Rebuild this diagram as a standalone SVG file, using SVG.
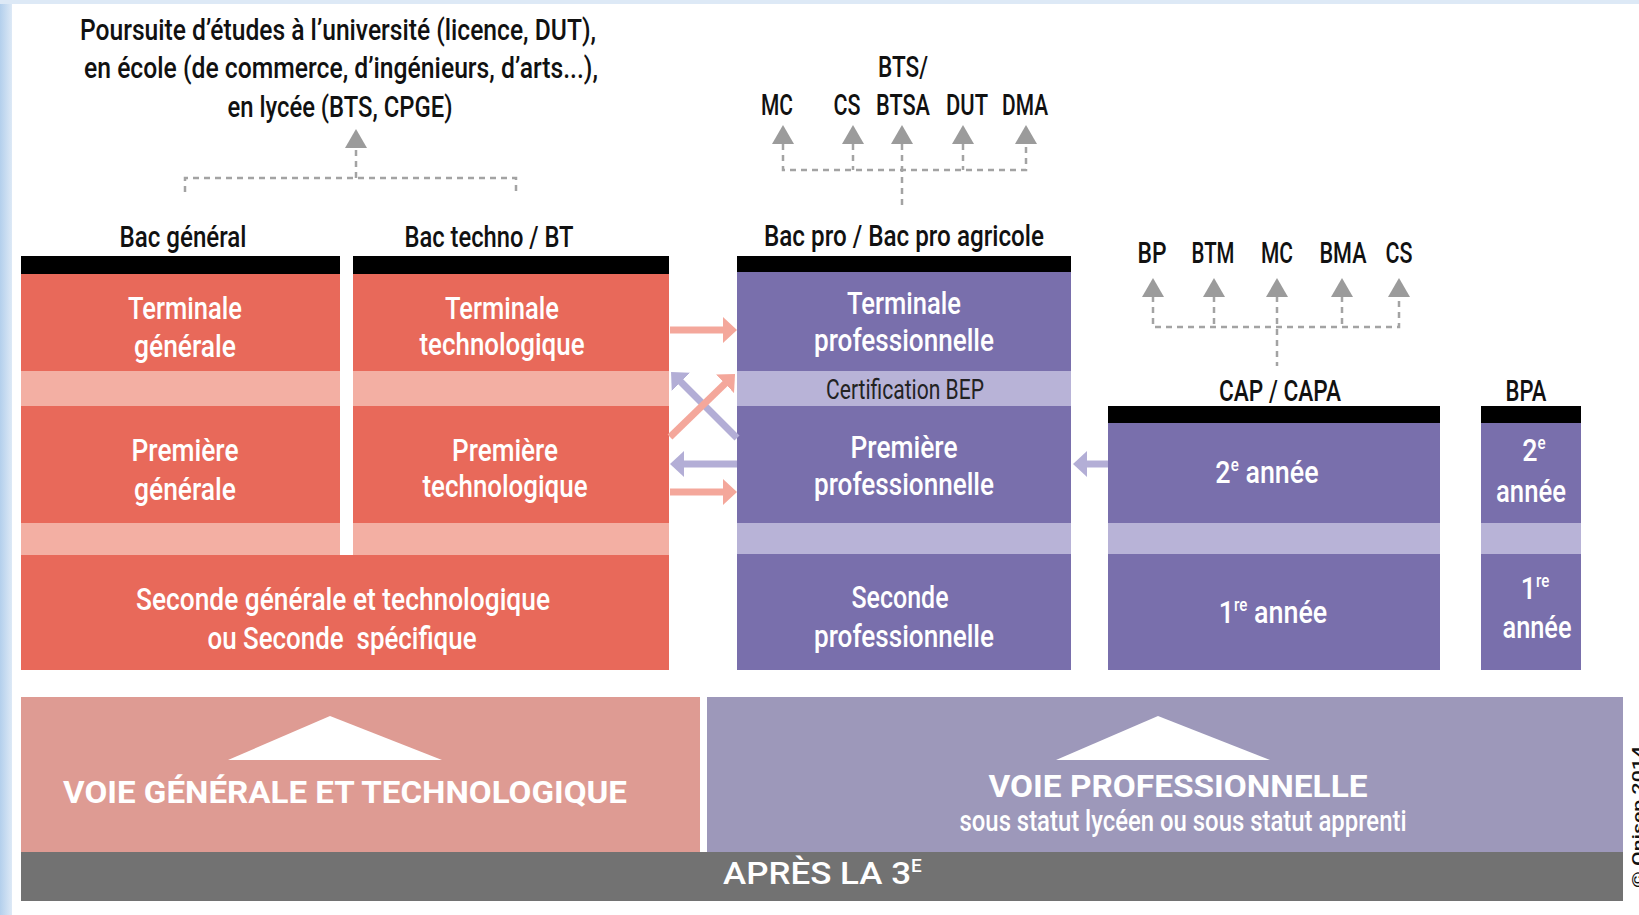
<svg xmlns="http://www.w3.org/2000/svg" width="1639" height="915" viewBox="0 0 1639 915">
<style>
text{font-family:"Roboto","Liberation Sans","DejaVu Sans",sans-serif;font-weight:500;}
.lbl{fill:#111;font-size:30px;text-anchor:middle;}
.top{fill:#111;font-size:29px;text-anchor:middle;}
.cw{fill:#fff;font-size:32px;text-anchor:middle;}
.cws{fill:#fff;font-size:32px;}
.sup{font-size:18px;}
.bep{fill:#222;font-size:28px;font-weight:400;text-anchor:middle;}
.bar{fill:#000;}
.red{fill:#E8695A;}
.pink{fill:#F3AFA3;}
.pur{fill:#796FAC;}
.lpur{fill:#B8B3D7;}
.dash{fill:none;stroke:#a3a3a3;stroke-width:2.5;stroke-dasharray:6 5;}
.big{fill:#fff;font-size:32px;font-weight:700;text-anchor:middle;}
</style>
<defs>
<linearGradient id="edge" x1="0" x2="1" y1="0" y2="0">
<stop offset="0" stop-color="#b3cfec"/><stop offset="1" stop-color="#dde9f6"/>
</linearGradient>
<polygon id="gArrow" points="0,0 -11,19 11,19" fill="#9b9b9b"/>
<marker id="mPink" markerUnits="userSpaceOnUse" viewBox="0 0 14 26" refX="6" refY="13" markerWidth="14" markerHeight="26" orient="auto">
<path d="M0,0 L14,13 L0,26 Z" fill="#F4A79B"/>
</marker>
<marker id="mPur" markerUnits="userSpaceOnUse" viewBox="0 0 14 26" refX="6" refY="13" markerWidth="14" markerHeight="26" orient="auto">
<path d="M0,0 L14,13 L0,26 Z" fill="#B3AED6"/>
</marker>
</defs>
<rect x="0" y="0" width="1639" height="915" fill="#fff"/>
<rect x="0" y="0" width="12" height="915" fill="url(#edge)"/>
<rect x="0" y="0" width="1639" height="4" fill="#dde9f6"/>

<g id="poursuite">
<text class="top" x="338" y="40" textLength="516" lengthAdjust="spacingAndGlyphs">Poursuite d’études à l’université (licence, DUT),</text>
<text class="top" x="341" y="78" textLength="514" lengthAdjust="spacingAndGlyphs">en école (de commerce, d’ingénieurs, d’arts...),</text>
<text class="top" x="340" y="117" textLength="225" lengthAdjust="spacingAndGlyphs">en lycée (BTS, CPGE)</text>
</g>

<g id="bac-general">
<text class="lbl" x="183" y="247" textLength="127" lengthAdjust="spacingAndGlyphs">Bac général</text>
<rect class="bar" x="21" y="256" width="319" height="18"/>
<rect class="red" x="21" y="274" width="319" height="97"/>
<rect class="pink" x="21" y="371" width="319" height="35"/>
<rect class="red" x="21" y="406" width="319" height="117"/>
<rect class="pink" x="21" y="523" width="319" height="32"/>
<text class="cw" x="185" y="319" textLength="114" lengthAdjust="spacingAndGlyphs">Terminale</text>
<text class="cw" x="185" y="357" textLength="102" lengthAdjust="spacingAndGlyphs">générale</text>
<text class="cw" x="185" y="461" textLength="107" lengthAdjust="spacingAndGlyphs">Première</text>
<text class="cw" x="185" y="500" textLength="102" lengthAdjust="spacingAndGlyphs">générale</text>
</g>

<g id="bac-techno">
<text class="lbl" x="489" y="247" textLength="169" lengthAdjust="spacingAndGlyphs">Bac techno / BT</text>
<rect class="bar" x="353" y="256" width="316" height="18"/>
<rect class="red" x="353" y="274" width="316" height="97"/>
<rect class="pink" x="353" y="371" width="316" height="35"/>
<rect class="red" x="353" y="406" width="316" height="117"/>
<rect class="pink" x="353" y="523" width="316" height="32"/>
<text class="cw" x="502" y="319" textLength="114" lengthAdjust="spacingAndGlyphs">Terminale</text>
<text class="cw" x="502" y="355" textLength="165" lengthAdjust="spacingAndGlyphs">technologique</text>
<text class="cw" x="505" y="461" textLength="106" lengthAdjust="spacingAndGlyphs">Première</text>
<text class="cw" x="505" y="497" textLength="165" lengthAdjust="spacingAndGlyphs">technologique</text>
</g>

<g id="seconde-gt">
<rect class="red" x="21" y="555" width="648" height="115"/>
<text class="cw" x="343" y="610" textLength="414" lengthAdjust="spacingAndGlyphs">Seconde générale et technologique</text>
<text class="cw" x="342" y="649" textLength="269" lengthAdjust="spacingAndGlyphs" style="white-space:pre">ou Seconde  spécifique</text>
</g>

<g id="bac-pro">
<text class="lbl" x="904" y="246" textLength="280" lengthAdjust="spacingAndGlyphs">Bac pro / Bac pro agricole</text>
<rect class="bar" x="737" y="256" width="334" height="16"/>
<rect class="pur" x="737" y="272" width="334" height="99"/>
<rect class="lpur" x="737" y="371" width="334" height="35"/>
<rect class="pur" x="737" y="406" width="334" height="117"/>
<rect class="lpur" x="737" y="523" width="334" height="31"/>
<rect class="pur" x="737" y="554" width="334" height="116"/>
<text class="cw" x="904" y="314" textLength="114" lengthAdjust="spacingAndGlyphs">Terminale</text>
<text class="cw" x="904" y="351" textLength="180" lengthAdjust="spacingAndGlyphs">professionnelle</text>
<text class="bep" x="905" y="399" textLength="158" lengthAdjust="spacingAndGlyphs">Certification BEP</text>
<text class="cw" x="904" y="458" textLength="107" lengthAdjust="spacingAndGlyphs">Première</text>
<text class="cw" x="904" y="495" textLength="180" lengthAdjust="spacingAndGlyphs">professionnelle</text>
<text class="cw" x="900" y="608" textLength="97" lengthAdjust="spacingAndGlyphs">Seconde</text>
<text class="cw" x="904" y="647" textLength="180" lengthAdjust="spacingAndGlyphs">professionnelle</text>
</g>

<g id="bac-pro-suite">
<text class="lbl" x="903" y="77" textLength="50" lengthAdjust="spacingAndGlyphs">BTS/</text>
<text class="lbl" x="777" y="115" textLength="32" lengthAdjust="spacingAndGlyphs">MC</text>
<text class="lbl" x="847" y="115" textLength="27" lengthAdjust="spacingAndGlyphs">CS</text>
<text class="lbl" x="903" y="115" textLength="54" lengthAdjust="spacingAndGlyphs">BTSA</text>
<text class="lbl" x="967" y="115" textLength="42" lengthAdjust="spacingAndGlyphs">DUT</text>
<text class="lbl" x="1025" y="115" textLength="46" lengthAdjust="spacingAndGlyphs">DMA</text>
</g>

<g id="cap">
<text class="lbl" x="1280" y="401" textLength="122" lengthAdjust="spacingAndGlyphs">CAP / CAPA</text>
<rect class="bar" x="1108" y="406" width="332" height="17"/>
<rect class="pur" x="1108" y="423" width="332" height="100"/>
<rect class="lpur" x="1108" y="523" width="332" height="31"/>
<rect class="pur" x="1108" y="554" width="332" height="116"/>
<text class="cw" transform="translate(1267,483) scale(0.84,1)">2<tspan class="sup" dy="-12">e</tspan><tspan dy="12"> année</tspan></text>
<text class="cw" transform="translate(1273,623) scale(0.84,1)">1<tspan class="sup" dy="-12">re</tspan><tspan dy="12"> année</tspan></text>
</g>

<g id="cap-suite">
<text class="lbl" x="1152" y="263" textLength="29" lengthAdjust="spacingAndGlyphs">BP</text>
<text class="lbl" x="1213" y="263" textLength="43" lengthAdjust="spacingAndGlyphs">BTM</text>
<text class="lbl" x="1277" y="263" textLength="32" lengthAdjust="spacingAndGlyphs">MC</text>
<text class="lbl" x="1343" y="263" textLength="47" lengthAdjust="spacingAndGlyphs">BMA</text>
<text class="lbl" x="1399" y="263" textLength="27" lengthAdjust="spacingAndGlyphs">CS</text>
</g>

<g id="bpa">
<text class="lbl" x="1526" y="401" textLength="41" lengthAdjust="spacingAndGlyphs">BPA</text>
<rect class="bar" x="1481" y="406" width="100" height="17"/>
<rect class="pur" x="1481" y="423" width="100" height="100"/>
<rect class="lpur" x="1481" y="523" width="100" height="31"/>
<rect class="pur" x="1481" y="554" width="100" height="116"/>
<text class="cw" transform="translate(1534,461) scale(0.84,1)">2<tspan class="sup" dy="-12">e</tspan></text>
<text class="cw" x="1531" y="502" textLength="70" lengthAdjust="spacingAndGlyphs">année</text>
<text class="cw" transform="translate(1535,599) scale(0.84,1)">1<tspan class="sup" dy="-12">re</tspan></text>
<text class="cw" x="1537" y="638" textLength="69" lengthAdjust="spacingAndGlyphs">année</text>
</g>

<g id="voie-gt">
<rect x="21" y="697" width="679" height="155" fill="#DE9B93"/>
<polygon points="330,716 228,760 442,760" fill="#fff"/>
<text class="big" x="345" y="803" textLength="564" lengthAdjust="spacingAndGlyphs">VOIE GÉNÉRALE ET TECHNOLOGIQUE</text>
</g>

<g id="voie-pro">
<rect x="707" y="697" width="916" height="155" fill="#9D98BA"/>
<polygon points="1158,716 1056,760 1270,760" fill="#fff"/>
<text class="big" x="1178" y="797" textLength="379" lengthAdjust="spacingAndGlyphs">VOIE PROFESSIONNELLE</text>
<text x="1183" y="831" fill="#fff" font-size="29" font-weight="400" text-anchor="middle" textLength="447" lengthAdjust="spacingAndGlyphs">sous statut lycéen ou sous statut apprenti</text>
</g>

<g id="apres-3e">
<rect x="21" y="852" width="1602" height="49" fill="#727272"/>
<text class="cws" x="723" y="884" font-weight="700"><tspan textLength="188" lengthAdjust="spacingAndGlyphs">APRÈS LA 3</tspan><tspan x="911" dy="-12" font-size="19">E</tspan></text>
</g>

<g id="credit">
<text x="1644" y="888" transform="rotate(-90 1644 888)" fill="#111" font-size="16" font-weight="700" textLength="142" lengthAdjust="spacingAndGlyphs">© Onisep 2014</text>
</g>

<g id="connectors">
<path class="dash" d="M185,192 V178 H516 V192 M356,178 V146"/>
<use href="#gArrow" x="356" y="129"/>
<path class="dash" d="M783,144 V170 H1026 V144 M853,144 V170 M902,144 V206 M963,144 V170"/>
<use href="#gArrow" x="783" y="125"/>
<use href="#gArrow" x="853" y="125"/>
<use href="#gArrow" x="902" y="125"/>
<use href="#gArrow" x="963" y="125"/>
<use href="#gArrow" x="1026" y="125"/>
<path class="dash" d="M1153,296 V327 H1399 V296 M1214,296 V327 M1277,296 V366 M1342,296 V327"/>
<use href="#gArrow" x="1153" y="278"/>
<use href="#gArrow" x="1214" y="278"/>
<use href="#gArrow" x="1277" y="278"/>
<use href="#gArrow" x="1342" y="278"/>
<use href="#gArrow" x="1399" y="278"/>
<line x1="737" y1="438" x2="676.7" y2="377.7" stroke="#B3AED6" stroke-width="7" marker-end="url(#mPur)"/>
<line x1="670" y1="437" x2="729.3" y2="379.6" stroke="#F4A79B" stroke-width="7" marker-end="url(#mPink)"/>
<line x1="670" y1="330" x2="729" y2="330" stroke="#F4A79B" stroke-width="7" marker-end="url(#mPink)"/>
<line x1="737" y1="464" x2="678" y2="464" stroke="#B3AED6" stroke-width="7" marker-end="url(#mPur)"/>
<line x1="670" y1="492" x2="729" y2="492" stroke="#F4A79B" stroke-width="7" marker-end="url(#mPink)"/>
<line x1="1108" y1="464" x2="1081" y2="464" stroke="#B3AED6" stroke-width="7" marker-end="url(#mPur)"/>
</g>
</svg>
